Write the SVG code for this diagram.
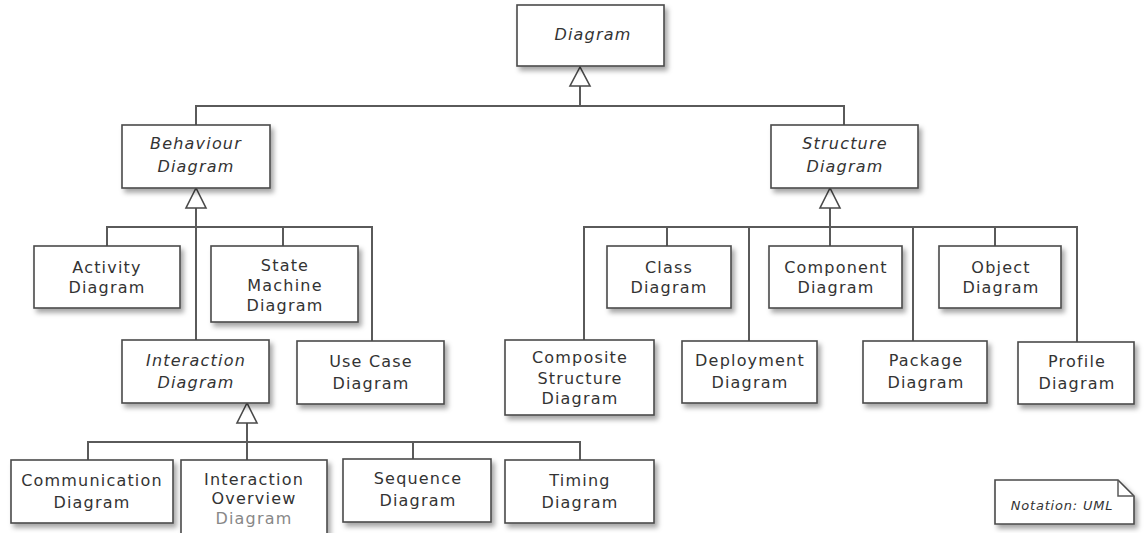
<svg xmlns="http://www.w3.org/2000/svg" width="1144" height="533" viewBox="0 0 1144 533">
<defs>
<filter id="sh" x="-10%" y="-10%" width="130%" height="140%">
<feDropShadow dx="3" dy="4" stdDeviation="2.5" flood-color="#000" flood-opacity="0.35"/>
</filter>
</defs>
<style>
.box{fill:#fff;stroke:#4a4a4a;stroke-width:1.6;filter:url(#sh)}
.ln{fill:none;stroke:#5a5a5a;stroke-width:2}
.tri{fill:#fff;stroke:#4a4a4a;stroke-width:1.6}
text{font-family:"DejaVu Sans","Liberation Sans",sans-serif;font-size:16px;letter-spacing:1.2px;fill:#333;text-anchor:middle}
.it{font-style:italic}
.note{font-size:13px;font-style:italic;letter-spacing:0.8px}
</style>
<rect width="1144" height="533" fill="#fff"/>
<g id="connectors">
<path class="ln" d="M580 86V106M196 125V106H844V125"/>
<path class="ln" d="M196 208V340M107 246V227H372V341M283 227V246"/>
<path class="ln" d="M247 423V460M88 460V442H580V460M413 442V459"/>
<path class="ln" d="M830 208V246M584 340V227H1077V342M667 227V246M749 227V341M913 227V341M995 227V246"/>
<polygon class="tri" points="580,67 570,86 590,86"/>
<polygon class="tri" points="196,188 186,208 206,208"/>
<polygon class="tri" points="247,403 237,423 257,423"/>
<polygon class="tri" points="830,188 820,208 840,208"/>
</g>
<g id="diagram"><rect class="box" x="517" y="5" width="147" height="61"/><text class="it" x="593" y="40">Diagram</text></g>
<g id="behaviour"><rect class="box" x="122" y="125" width="148" height="63"/><text class="it" x="196" y="149">Behaviour</text><text class="it" x="196" y="172">Diagram</text></g>
<g id="structure"><rect class="box" x="771" y="125" width="147" height="63"/><text class="it" x="845" y="149">Structure</text><text class="it" x="845" y="172">Diagram</text></g>
<g id="activity"><rect class="box" x="34" y="246" width="146" height="62"/><text x="107" y="273">Activity</text><text x="107" y="293">Diagram</text></g>
<g id="statemachine"><rect class="box" x="211" y="246" width="147" height="76"/><text x="285" y="271">State</text><text x="285" y="291">Machine</text><text x="285" y="311">Diagram</text></g>
<g id="interaction"><rect class="box" x="122" y="340" width="147" height="63"/><text class="it" x="196" y="366">Interaction</text><text class="it" x="196" y="388">Diagram</text></g>
<g id="usecase"><rect class="box" x="297" y="341" width="147" height="63"/><text x="371" y="367">Use Case</text><text x="371" y="389">Diagram</text></g>
<g id="communication"><rect class="box" x="11" y="460" width="162" height="63"/><text x="92" y="486">Communication</text><text x="92" y="508">Diagram</text></g>
<g id="overview"><rect class="box" x="181" y="460" width="146" height="82"/><text x="254" y="485">Interaction</text><text x="254" y="504">Overview</text><text x="254" y="524" style="fill:#888">Diagram</text></g>
<g id="sequence"><rect class="box" x="343" y="459" width="148" height="63"/><text x="418" y="484">Sequence</text><text x="418" y="506">Diagram</text></g>
<g id="timing"><rect class="box" x="505" y="460" width="149" height="63"/><text x="580" y="486">Timing</text><text x="580" y="508">Diagram</text></g>
<g id="class"><rect class="box" x="607" y="246" width="124" height="62"/><text x="669" y="273">Class</text><text x="669" y="293">Diagram</text></g>
<g id="component"><rect class="box" x="769" y="246" width="133" height="62"/><text x="836" y="273">Component</text><text x="836" y="293">Diagram</text></g>
<g id="object"><rect class="box" x="939" y="246" width="122" height="62"/><text x="1001" y="273">Object</text><text x="1001" y="293">Diagram</text></g>
<g id="composite"><rect class="box" x="505" y="340" width="149" height="75"/><text x="580" y="363">Composite</text><text x="580" y="384">Structure</text><text x="580" y="404">Diagram</text></g>
<g id="deployment"><rect class="box" x="682" y="341" width="135" height="62"/><text x="750" y="366">Deployment</text><text x="750" y="388">Diagram</text></g>
<g id="package"><rect class="box" x="863" y="341" width="124" height="62"/><text x="926" y="366">Package</text><text x="926" y="388">Diagram</text></g>
<g id="profile"><rect class="box" x="1018" y="342" width="116" height="62"/><text x="1077" y="367">Profile</text><text x="1077" y="389">Diagram</text></g>
<g id="note"><path class="box" d="M995 480H1118L1134 496V524H995Z"/><path class="ln" style="stroke-width:1.5" d="M1118 480V496H1134"/><text class="note" x="1062" y="510">Notation: UML</text></g>
</svg>
